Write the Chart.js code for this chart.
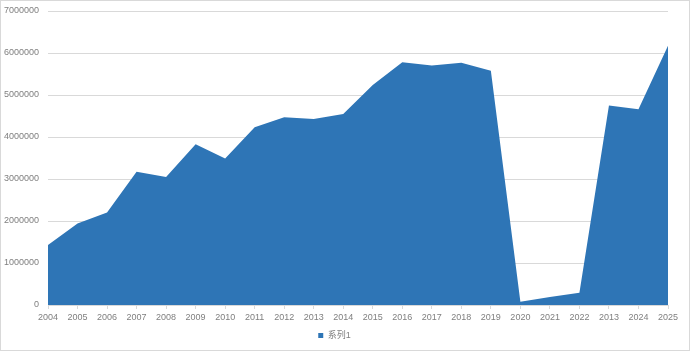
<html>
<head>
<style>
  html, body { margin:0; padding:0; background:#fff; }
  #wrap { width:688px; height:349px; border:1px solid #d9d9d9; }
</style>
</head>
<body>
<div id="wrap">
  <canvas id="myChart" width="688" height="349"></canvas>
</div>

<script src="https://cdn.jsdelivr.net/npm/chart.js"></script>

<script>
  // x labels as they appear in the picture (note the "2013" after 2022)
  const labels = ['2004','2005','2006','2007','2008','2009','2010','2011','2012','2013','2014',
                  '2015','2016','2017','2018','2019','2020','2021','2022','2013','2024','2025'];
  const values = [1430000, 1940000, 2200000, 3170000, 3050000, 3830000, 3490000, 4230000, 4470000, 4430000, 4550000,
                  5240000, 5780000, 5700000, 5770000, 5580000, 80000, 190000, 290000, 4750000, 4660000, 6170000];
  const seriesName = '系列1';

  const gridColor = '#d9d9d9';
  const textColor = '#7f7f7f';
  const fontFamily = '"Liberation Sans", "Noto Sans CJK SC", sans-serif';

  const data = {
    labels: labels,
    datasets: [{
      label: seriesName,
      data: values,
      backgroundColor: '#2e75b6',
      borderColor: '#2e75b6',
      borderWidth: 0,
      pointRadius: 0,
      fill: 'origin',
      tension: 0
    }]
  };

  const config = {
    type: 'line',
    data: data,
    options: {
      responsive: false,
      animation: false,
      layout: { padding: { left: 0, right: 21, top: 10, bottom: 0 } },
      plugins: {
        tooltip: { enabled: false },
        legend: {
          position: 'bottom',
          labels: {
            boxWidth: 5, boxHeight: 5, padding: 4,
            color: textColor,
            font: { family: fontFamily, size: 9 }
          }
        }
      },
      scales: {
        x: {
          offset: false,
          grid: { drawOnChartArea: false, drawTicks: true, tickLength: 4, color: gridColor },
          border: { color: gridColor },
          ticks: {
            color: textColor, maxRotation: 0, autoSkip: false, padding: 3,
            font: { family: fontFamily, size: 9 }
          },
          afterFit: s => { s.height = 22; }
        },
        y: {
          min: 0, max: 7000000,
          ticks: {
            stepSize: 1000000, padding: 9, color: textColor,
            font: { family: fontFamily, size: 9 },
            callback: v => String(v)
          },
          grid: { color: gridColor, drawTicks: false },
          border: { display: false },
          afterFit: s => { s.width = 47; s.paddingTop = 0; s.paddingBottom = 0; }
        }
      }
    }
  };

  const myChart = new Chart(document.getElementById('myChart'), config);
</script>
</body>
</html>
